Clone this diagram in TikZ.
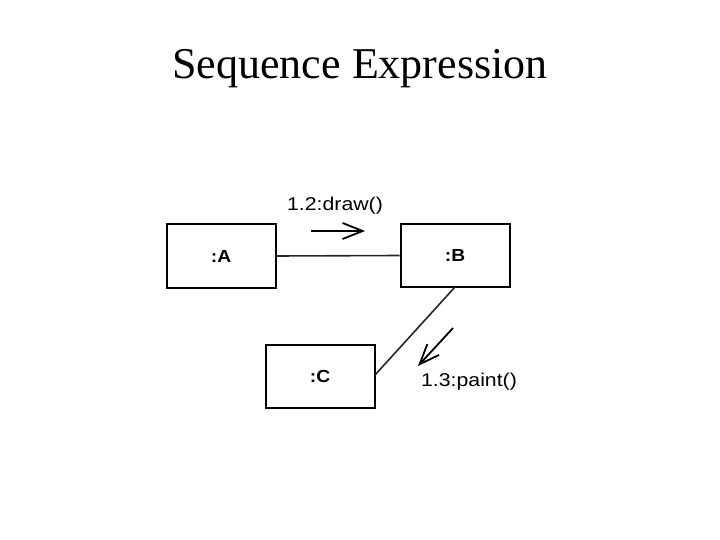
\documentclass[tikz,border=0pt]{standalone}
\usepackage{fontspec}
\setmainfont{Liberation Serif}
\newfontfamily\labfont{Liberation Sans}
\usetikzlibrary{arrows.meta}
\begin{document}
\begin{tikzpicture}[x=1pt,y=-1pt,
  objbox/.style={draw=black,line width=2pt,minimum width=109pt,minimum height=63pt,inner sep=0pt,font=\labfont\bfseries\fontsize{17.5}{20}\selectfont},
  msg/.style={font=\labfont\fontsize{18.5}{22}\selectfont,inner sep=0pt},
  link/.style={line width=1.6pt,draw=black!85},
  msgarrow/.style={line width=1.8pt,-{Straight Barb[length=20pt,width=16pt,line width=1.8pt]}}]
\useasboundingbox (0,0) rectangle (720,540);
\node[font=\fontsize{44}{50}\selectfont,inner sep=0pt] (title) at (360,69) {Sequence Expression};
\node[objbox] (A) at (221,256) {\scalebox{1.1}[1]{:A}};
\node[objbox] (B) at (455,255.5) {\scalebox{1.1}[1]{:B}};
\node[objbox] (C) at (320,376.5) {\scalebox{1.1}[1]{:C}};
\draw[link] (A.east) -- (B.west);
\coordinate (bs) at (455,287);
\coordinate (ce) at (375,375);
\draw[link] (bs) -- (ce);
\node[msg] (l1) at (335,206) {\scalebox{1.15}[1]{1.2:draw()}};
\coordinate (a1s) at (311,231);
\coordinate (a1e) at (365,231);
\draw[msgarrow] (a1s) -- (a1e);
\node[msg] (l2) at (469,382) {\scalebox{1.15}[1]{1.3:paint()}};
\coordinate (a2s) at (453,328);
\coordinate (a2e) at (418,366);
\draw[msgarrow] (a2s) -- (a2e);
\end{tikzpicture}
\end{document}
